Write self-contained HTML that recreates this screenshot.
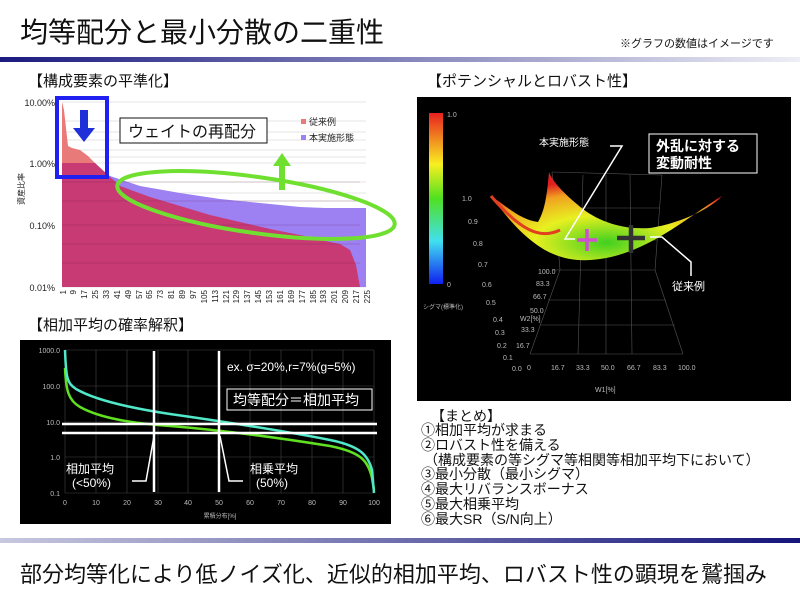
<!DOCTYPE html>
<html><head><meta charset="utf-8"><style>
body{margin:0;width:800px;height:600px;background:#fff;overflow:hidden;font-family:"Liberation Sans","Noto Sans CJK JP",sans-serif}
svg text{font-family:"Liberation Sans","Noto Sans CJK JP",sans-serif}
</style></head><body>
<svg width="800" height="600" viewBox="0 0 800 600" xmlns="http://www.w3.org/2000/svg">
<defs>
<linearGradient id="tb" x1="0" x2="1"><stop offset="0" stop-color="#1a1a80"/><stop offset="1" stop-color="#eeeef6"/></linearGradient>
<linearGradient id="bb" x1="0" x2="1"><stop offset="0" stop-color="#c8c8e0"/><stop offset="1" stop-color="#14147a"/></linearGradient>
<linearGradient id="cb" x1="0" y1="0" x2="0" y2="1"><stop offset="0" stop-color="#e82020"/><stop offset="0.3" stop-color="#f8f020"/><stop offset="0.5" stop-color="#50e020"/><stop offset="0.75" stop-color="#40e0f0"/><stop offset="1" stop-color="#1020f0"/></linearGradient>
<radialGradient id="sf" cx="0.5" cy="0.8" r="0.7"><stop offset="0" stop-color="#40d020"/><stop offset="0.45" stop-color="#e8f020"/><stop offset="0.8" stop-color="#f0a020"/><stop offset="1" stop-color="#e02020"/></radialGradient>
</defs>
<!-- header -->
<text x="20" y="42" font-size="28" fill="#111">均等配分と最小分散の二重性</text>
<text x="620" y="47" font-size="11" fill="#111">※グラフの数値はイメージです</text>
<rect x="0" y="57" width="800" height="5" fill="url(#tb)"/>
<rect x="0" y="538" width="800" height="5" fill="url(#bb)"/>
<text x="20" y="582" font-size="22" fill="#111">部分均等化により低ノイズ化、近似的相加平均、ロバスト性の顕現を鷲掴み</text>

<!-- chart 1 -->
<text x="28" y="86" font-size="15" fill="#111">【構成要素の平準化】</text>
<g stroke="#ccc" stroke-width="0.6">
<line x1="62" y1="102" x2="366" y2="102"/><line x1="62" y1="121" x2="366" y2="121"/><line x1="62" y1="132" x2="366" y2="132"/><line x1="62" y1="140" x2="366" y2="140"/><line x1="62" y1="150" x2="366" y2="150"/><line x1="62" y1="157" x2="366" y2="157"/>
<line x1="62" y1="163" x2="366" y2="163"/><line x1="62" y1="182" x2="366" y2="182"/><line x1="62" y1="193" x2="366" y2="193"/><line x1="62" y1="201" x2="366" y2="201"/><line x1="62" y1="211" x2="366" y2="211"/><line x1="62" y1="219" x2="366" y2="219"/>
<line x1="62" y1="225" x2="366" y2="225"/><line x1="62" y1="244" x2="366" y2="244"/><line x1="62" y1="255" x2="366" y2="255"/><line x1="62" y1="263" x2="366" y2="263"/><line x1="62" y1="273" x2="366" y2="273"/><line x1="62" y1="281" x2="366" y2="281"/><line x1="62" y1="287" x2="366" y2="287"/>
</g>
<path d="M62,163 L92,163 L110,176 L140,186 L180,193 L220,199 L260,203 L300,207 L325,208 L366,208 L366,287 L62,287Z" fill="#9d80f2"/>
<path d="M62,163 L95,163 L120,186 L150,197 L180,206 L210,215 L240,222 L270,229 L300,235 L320,240 L340,244 L350,250 L356,265 L360,287 L62,287Z" fill="#c83a74"/>
<path d="M62,102 L64,110 L66,128 L68,146 L72,148 L80,150 L88,156 L95,163 L62,163Z" fill="#e87a7a"/>
<g stroke="rgba(90,20,60,0.35)" stroke-width="0.6"><line x1="62" y1="182" x2="360" y2="182"/><line x1="62" y1="201" x2="360" y2="201"/><line x1="62" y1="225" x2="360" y2="225"/><line x1="62" y1="244" x2="360" y2="244"/><line x1="62" y1="263" x2="360" y2="263"/></g>
<g font-size="9" fill="#222" text-anchor="end"><text x="55" y="106">10.00%</text><text x="55" y="167">1.00%</text><text x="55" y="229">0.10%</text><text x="55" y="291">0.01%</text></g>
<text transform="translate(24,205) rotate(-90)" font-size="8" fill="#222">資産比率</text>
<g font-size="8" fill="#222" text-anchor="end">
<text transform="translate(66,290) rotate(-90)">1</text><text transform="translate(76,290) rotate(-90)">9</text><text transform="translate(87,290) rotate(-90)">17</text><text transform="translate(98,290) rotate(-90)">25</text><text transform="translate(109,290) rotate(-90)">33</text><text transform="translate(120,290) rotate(-90)">41</text><text transform="translate(131,290) rotate(-90)">49</text><text transform="translate(142,290) rotate(-90)">57</text><text transform="translate(152,290) rotate(-90)">65</text><text transform="translate(163,290) rotate(-90)">73</text><text transform="translate(174,290) rotate(-90)">81</text><text transform="translate(185,290) rotate(-90)">89</text><text transform="translate(196,290) rotate(-90)">97</text><text transform="translate(207,290) rotate(-90)">105</text><text transform="translate(218,290) rotate(-90)">113</text><text transform="translate(229,290) rotate(-90)">121</text><text transform="translate(239,290) rotate(-90)">129</text><text transform="translate(250,290) rotate(-90)">137</text><text transform="translate(261,290) rotate(-90)">145</text><text transform="translate(272,290) rotate(-90)">153</text><text transform="translate(283,290) rotate(-90)">161</text><text transform="translate(294,290) rotate(-90)">169</text><text transform="translate(305,290) rotate(-90)">177</text><text transform="translate(316,290) rotate(-90)">185</text><text transform="translate(326,290) rotate(-90)">193</text><text transform="translate(337,290) rotate(-90)">201</text><text transform="translate(348,290) rotate(-90)">209</text><text transform="translate(359,290) rotate(-90)">217</text><text transform="translate(370,290) rotate(-90)">225</text>
</g>
<rect x="57" y="98" width="50" height="79" fill="none" stroke="#2020f0" stroke-width="4"/>
<path d="M80,110 h8 v18 h7 l-11,14 l-11,-14 h7z" fill="#2030d8"/>
<rect x="120" y="118" width="147" height="25" fill="#fff" stroke="#111" stroke-width="1"/>
<text x="128" y="137" font-size="16" fill="#111">ウェイトの再配分</text>
<rect x="301" y="119" width="5" height="5" fill="#e87a7a"/><text x="309" y="125" font-size="9" fill="#222">従来例</text>
<rect x="301" y="135" width="5" height="5" fill="#9d80f2"/><text x="309" y="141" font-size="9" fill="#222">本実施形態</text>
<ellipse cx="256" cy="205" rx="140" ry="28" transform="rotate(8 256 205)" fill="none" stroke="#70e030" stroke-width="4"/>
<path d="M279,190 v-24 h-6 l9,-13 l9,13 h-6 v24z" fill="#70e030"/>

<!-- chart 2 -->
<text x="28" y="330" font-size="15" fill="#111">【相加平均の確率解釈】</text>
<rect x="20" y="340" width="371" height="184" fill="#000"/>
<g stroke="#444" stroke-width="0.6">
<line x1="65" y1="350" x2="374" y2="350"/><line x1="65" y1="386" x2="374" y2="386"/><line x1="65" y1="422" x2="374" y2="422"/><line x1="65" y1="457" x2="374" y2="457"/><line x1="65" y1="493" x2="374" y2="493"/>
<line x1="65" y1="350" x2="65" y2="493"/><line x1="96" y1="350" x2="96" y2="493"/><line x1="127" y1="350" x2="127" y2="493"/><line x1="158" y1="350" x2="158" y2="493"/><line x1="188" y1="350" x2="188" y2="493"/><line x1="219" y1="350" x2="219" y2="493"/><line x1="250" y1="350" x2="250" y2="493"/><line x1="281" y1="350" x2="281" y2="493"/><line x1="312" y1="350" x2="312" y2="493"/><line x1="343" y1="350" x2="343" y2="493"/><line x1="374" y1="350" x2="374" y2="493"/>
</g>
<g font-size="7" fill="#bbb" text-anchor="end"><text x="60" y="353">1000.0</text><text x="60" y="389">100.0</text><text x="60" y="425">10.0</text><text x="60" y="460">1.0</text><text x="60" y="496">0.1</text></g>
<g font-size="7" fill="#bbb" text-anchor="middle"><text x="65" y="505">0</text><text x="96" y="505">10</text><text x="127" y="505">20</text><text x="158" y="505">30</text><text x="188" y="505">40</text><text x="219" y="505">50</text><text x="250" y="505">60</text><text x="281" y="505">70</text><text x="312" y="505">80</text><text x="343" y="505">90</text><text x="374" y="505">100</text></g>
<text x="220" y="518" font-size="6" fill="#bbb" text-anchor="middle">累積分布[%]</text>
<path d="M65,368 C66,390 68,400 80,407 C100,418 130,423 170,426 C220,430 280,438 330,446 C360,452 368,460 372,478 L374,490" fill="none" stroke="#60e020" stroke-width="2.5"/>
<path d="M65,350 C66,378 67,383 76,389 C95,400 130,408 170,414 C220,421 290,432 330,440 C360,446 368,455 372,470 L374,493" fill="none" stroke="#50e8c8" stroke-width="2.5"/>
<g stroke="#fff" stroke-width="2.5"><line x1="154" y1="351" x2="154" y2="492"/><line x1="219" y1="351" x2="219" y2="492"/><line x1="62" y1="424" x2="377" y2="424"/><line x1="62" y1="433" x2="377" y2="433"/></g>
<g stroke="#fff" stroke-width="1.5" fill="none"><polyline points="132,481 146,481 154,436"/><polyline points="243,481 229,481 220,436"/></g>
<text x="227" y="371" font-size="12" fill="#fff">ex. σ=20%,r=7%(g=5%)</text>
<rect x="227" y="389" width="145" height="21" fill="none" stroke="#fff" stroke-width="1"/>
<text x="233" y="405" font-size="14" fill="#fff">均等配分＝相加平均</text>
<text x="66" y="473" font-size="12" fill="#fff">相加平均</text><text x="72" y="487" font-size="12" fill="#fff">(&lt;50%)</text>
<text x="250" y="473" font-size="12" fill="#fff">相乗平均</text><text x="256" y="487" font-size="12" fill="#fff">(50%)</text>

<!-- chart 3 -->
<text x="427" y="86" font-size="15" fill="#111">【ポテンシャルとロバスト性】</text>
<rect x="417" y="97" width="374" height="304" fill="#000"/>
<rect x="429" y="113" width="14" height="171" fill="url(#cb)"/>
<text x="447" y="117" font-size="7" fill="#bbb">1.0</text><text x="447" y="287" font-size="7" fill="#bbb">0</text>
<text x="423" y="309" font-size="6" fill="#bbb">シグマ(標準化)</text>
<g stroke="#555" stroke-width="0.6" fill="none">
<line x1="552" y1="172" x2="662" y2="175"/><line x1="552" y1="270" x2="655" y2="270"/><line x1="560" y1="270" x2="530" y2="354"/><line x1="655" y1="270" x2="683" y2="354"/><line x1="530" y1="354" x2="683" y2="354"/>
<line x1="552" y1="172" x2="560" y2="270"/><line x1="662" y1="175" x2="655" y2="270"/>
<line x1="583" y1="175" x2="578" y2="354"/><line x1="606" y1="175" x2="606" y2="354"/><line x1="630" y1="175" x2="632" y2="354"/>
<line x1="556" y1="208" x2="660" y2="208"/><line x1="555" y1="240" x2="657" y2="240"/><line x1="548" y1="300" x2="666" y2="300"/><line x1="540" y1="325" x2="675" y2="325"/>
</g>
<path d="M491,196 C530,250 560,265 600,259 C650,252 690,215 722,196 L718,200 C700,215 670,225 650,228 C620,230 595,220 578,205 C560,190 552,180 549,172 C547,195 545,210 538,222 C520,220 505,205 491,196Z" fill="url(#sf)"/>
<path d="M491,196 C520,230 540,240 560,230" fill="none" stroke="#e04020" stroke-width="3"/>
<g font-size="7" fill="#bbb"><text x="462" y="201">1.0</text><text x="468" y="224">0.9</text><text x="473" y="246">0.8</text><text x="478" y="267">0.7</text><text x="482" y="287">0.6</text><text x="486" y="305">0.5</text><text x="493" y="322">0.4</text><text x="495" y="335">0.3</text><text x="497" y="348">0.2</text><text x="503" y="360">0.1</text><text x="512" y="371">0.0</text>
<text x="538" y="274">100.0</text><text x="536" y="286">83.3</text><text x="533" y="299">66.7</text><text x="530" y="313">50.0</text><text x="520" y="321">W2[%]</text><text x="521" y="332">33.3</text><text x="516" y="348">16.7</text>
<text x="527" y="370">0</text><text x="551" y="370">16.7</text><text x="576" y="370">33.3</text><text x="601" y="370">50.0</text><text x="627" y="370">66.7</text><text x="653" y="370">83.3</text><text x="678" y="370">100.0</text><text x="595" y="392">W1[%]</text></g>
<text x="539" y="146" font-size="10" fill="#fff">本実施形態</text>
<polyline points="610,146 622,146 565,239 575,239" fill="none" stroke="#fff" stroke-width="1.5"/>
<polyline points="650,237 662,237 691,262 691,276" fill="none" stroke="#fff" stroke-width="1.5"/>
<text x="672" y="290" font-size="11" fill="#fff">従来例</text>
<path d="M587,229 v22 M577,240 h20" stroke="#d050d0" stroke-width="3.5"/>
<path d="M631,225 v28 M617,238 h28" stroke="#333" stroke-width="4.5"/>
<rect x="649" y="134" width="108" height="39" fill="#000" stroke="#fff" stroke-width="1"/>
<text x="656" y="151" font-size="14" fill="#fff" font-weight="bold">外乱に対する</text>
<text x="656" y="168" font-size="14" fill="#fff" font-weight="bold">変動耐性</text>

<!-- summary -->
<g font-size="14" fill="#111">
<text x="431" y="421">【まとめ】</text>
<text x="421" y="435">①相加平均が求まる</text>
<text x="421" y="450">②ロバスト性を備える</text>
<text x="424" y="465">（構成要素の等シグマ等相関等相加平均下において）</text>
<text x="421" y="479">③最小分散（最小シグマ）</text>
<text x="421" y="494">④最大リバランスボーナス</text>
<text x="421" y="509">⑤最大相乗平均</text>
<text x="421" y="524">⑥最大SR（S/N向上）</text>
</g>
</svg>
</body></html>
